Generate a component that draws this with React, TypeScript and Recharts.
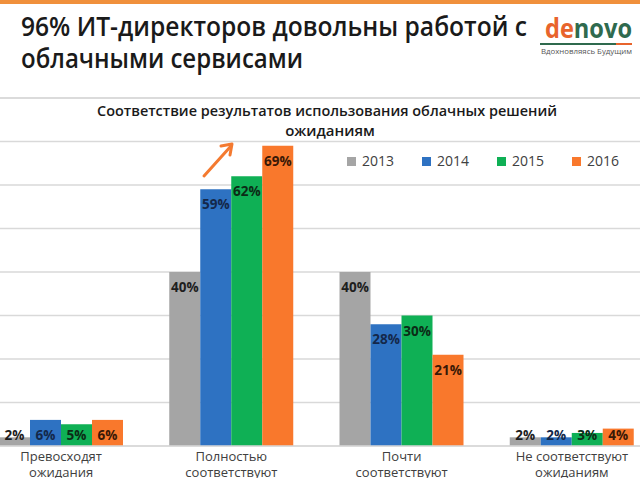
import React from 'react';
import { BarChart, Bar, XAxis, YAxis, CartesianGrid, LabelList, ReferenceLine } from 'recharts';

const categories = ['Превосходят\nожидания', 'Полностью\nсоответствуют', 'Почти\nсоответствуют', 'Не соответствуют\nожиданиям'];
const years = ['2013', '2014', '2015', '2016'];
const values2013 = [2, 40, 40, 2];
const values2014 = [6, 59, 28, 2];
const values2015 = [5, 62, 30, 3];
const values2016 = [6, 69, 21, 4];
const yTicks = [0, 10, 20, 30, 40, 50, 60, 70, 80];

const barColors = ['#a5a5a5', '#2e72c2', '#0fb055', '#f9782c'];
const labelColors = ['#1e1e1e', '#14284a', '#0b2b16', '#3a1806'];

const data = categories.map((c, i) => ({
  cat: c,
  y2013: values2013[i],
  y2014: values2014[i],
  y2015: values2015[i],
  y2016: values2016[i],
}));

const FONT = '"Open Sans", "Noto Sans", sans-serif';

const makeLabel = (color: string) => (props: any) => {
  const { x, y, width, height, value } = props;
  const base = y + height;
  const cy = Math.min(y + 15, base - 11);
  return (
    <text x={x + width / 2} y={cy + 5} textAnchor="middle" fill={color}
      fontFamily={FONT} fontWeight={700} fontSize={13.5}>
      {value}%
    </text>
  );
};

const Tick = (props: any) => {
  const { x, y, payload } = props;
  const lines = String(payload.value).split('\n');
  return (
    <g>
      {lines.map((l, i) => (
        <text key={i} x={x} y={y + 15 + i * 16} textAnchor="middle" fill="#404040"
          fontFamily={FONT} fontSize={13}>
          {l}
        </text>
      ))}
    </g>
  );
};

export default function App() {
  return (
    <div style={{ position: 'fixed', left: 0, top: 0, width: 640, height: 478, overflow: 'hidden', background: '#fff' }}>
      <div style={{ position: 'absolute', left: -24, top: 0 }}>
        <BarChart width={681} height={478} data={data}
          margin={{ top: 98, right: 0, bottom: 0, left: 0 }}
          barCategoryGap={23} barGap={0}>
          <CartesianGrid vertical={false} stroke="#d9d9d9" strokeWidth={1.5} />
          <YAxis hide domain={[0, 80]} ticks={yTicks} />
          <XAxis dataKey="cat" height={32} tickLine={false} tickSize={0} tickMargin={0}
            axisLine={{ stroke: '#d9d9d9', strokeWidth: 1.5 }} tick={<Tick />} interval={0} />
          <ReferenceLine y={80} stroke="#d9d9d9" strokeWidth={1.5} />
          {years.map((yr, i) => (
            <Bar key={yr} dataKey={'y' + yr} name={yr} fill={barColors[i]} isAnimationActive={false}>
              <LabelList dataKey={'y' + yr} content={makeLabel(labelColors[i])} />
            </Bar>
          ))}
        </BarChart>
      </div>
      <div style={{ position: 'absolute', left: 347, top: 152, display: 'flex' }}>
        {years.map((yr, i) => (
          <div key={yr} style={{ width: 75, display: 'flex', alignItems: 'center' }}>
            <div style={{ width: 9, height: 9, background: barColors[i], marginRight: 6 }} />
            <span style={{ fontFamily: FONT, fontSize: 14, color: '#404040', lineHeight: '18px' }}>{yr}</span>
          </div>
        ))}
      </div>
      <svg width={640} height={478} style={{ position: 'absolute', left: 0, top: 0, pointerEvents: 'none' }}>
        <rect x={0} y={0} width={640} height={4} fill="#f0903c" />
        <text x={21} y={36} fontFamily={FONT} fontWeight={600} fontSize={27} fill="#1a1a1a"
          textLength={506} lengthAdjust="spacingAndGlyphs">96% ИТ-директоров довольны работой с</text>
        <text x={21} y={68} fontFamily={FONT} fontWeight={600} fontSize={27} fill="#1a1a1a"
          textLength={282} lengthAdjust="spacingAndGlyphs">облачными сервисами</text>
        <text x={545} y={38} fontFamily={FONT} fontWeight={700} fontSize={26} fill="#e8642c"
          textLength={87} lengthAdjust="spacingAndGlyphs">de<tspan fill="#2f6a4e">novo</tspan></text>
        <rect x={540} y={43} width={76} height={2} fill="#2f6a4e" />
        <rect x={616} y={43} width={16} height={2} fill="#e8642c" />
        <text x={541} y={54} fontFamily={FONT} fontSize={7.5} fill="#555"
          textLength={91} lengthAdjust="spacingAndGlyphs">Вдохновляясь Будущим</text>
        <text x={327} y={116} textAnchor="middle" fontFamily={FONT} fontWeight={600} fontSize={15} fill="#1a1a1a"
          textLength={460} lengthAdjust="spacingAndGlyphs">Соответствие результатов использования облачных решений</text>
        <text x={330} y={136} textAnchor="middle" fontFamily={FONT} fontWeight={600} fontSize={15} fill="#1a1a1a">ожиданиям</text>
        <line x1={204} y1={176} x2={231} y2={146} stroke="#f47a30" strokeWidth={3} strokeLinecap="round" />
        <polyline points="221,146 232,144 230,155" fill="none" stroke="#f47a30" strokeWidth={3}
          strokeLinecap="round" strokeLinejoin="round" />
      </svg>
    </div>
  );
}
